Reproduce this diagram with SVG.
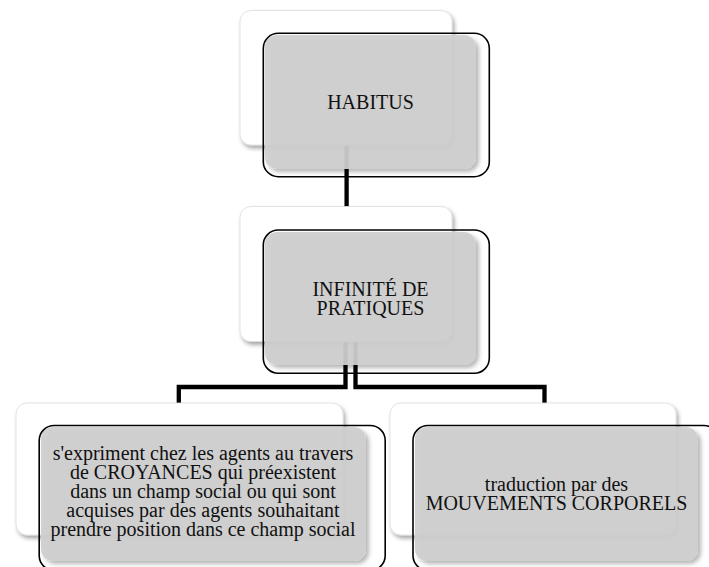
<svg xmlns="http://www.w3.org/2000/svg" width="709" height="567" viewBox="0 0 709 567">
<defs>
<filter id="sh" x="-10%" y="-10%" width="125%" height="130%">
<feDropShadow dx="2" dy="3" stdDeviation="2" flood-color="#000" flood-opacity="0.35"/>
</filter>
<filter id="sh2" x="-10%" y="-10%" width="125%" height="130%">
<feDropShadow dx="3" dy="3" stdDeviation="2.2" flood-color="#000" flood-opacity="0.3"/>
</filter>
</defs>
<style>
.back{fill:#fff;stroke:#dcdcdc;stroke-width:0.8;filter:url(#sh)}
.fill{fill:#cfcfcf;fill-opacity:0.93;filter:url(#sh2)}
.out{fill:none;stroke:#000;stroke-width:1.6}
.con{fill:none;stroke:#000;stroke-width:4.3;stroke-linejoin:miter}
.t{font-size:20px;fill:#111;text-anchor:middle}
</style>
<rect width="709" height="567" fill="#fff"/>
<g id="connectors">
<path class="con" d="M346.6,140 V210"/>
<path class="con" d="M345.5,338 V387 H178.8 V405"/>
<path class="con" d="M355.5,338 V387 H544.5 V405"/>
</g>
<g font-family="Liberation Serif, Times New Roman, serif">
<g id="node-habitus">
<rect class="back" x="240" y="10.5" width="212" height="134.5" rx="11"/>
<rect class="fill" x="265" y="35" width="211" height="134" rx="12"/>
<rect class="out" x="263.3" y="33.3" width="226" height="143.4" rx="15"/>
<text class="t" x="370.5" y="109">HABITUS</text>
</g>
<g id="node-infinite">
<rect class="back" x="240" y="206.5" width="212" height="135" rx="11"/>
<rect class="fill" x="265" y="232" width="211" height="133" rx="12"/>
<rect class="out" x="263.3" y="230" width="226" height="143.3" rx="15"/>
<text class="t" x="370.5" y="296">INFINITÉ DE</text>
<text class="t" x="370.5" y="314.5">PRATIQUES</text>
</g>
<g id="node-croyances">
<rect class="back" x="16" y="403" width="327" height="132" rx="11"/>
<rect class="fill" x="41" y="427" width="325" height="134" rx="12"/>
<rect class="out" x="39.2" y="425.5" width="346" height="145" rx="15"/>
<text class="t" x="203" y="459.5">s'expriment chez les agents au travers</text>
<text class="t" x="203" y="478.7">de CROYANCES qui préexistent</text>
<text class="t" x="203" y="497.9">dans un champ social ou qui sont</text>
<text class="t" x="203" y="517.1">acquises par des agents souhaitant</text>
<text class="t" x="203" y="536.3">prendre position dans ce champ social</text>
</g>
<g id="node-mouvements">
<rect class="back" x="390" y="403" width="286" height="132" rx="11"/>
<rect class="fill" x="415" y="427" width="283" height="134" rx="12"/>
<rect class="out" x="413" y="425.5" width="306" height="145" rx="15"/>
<text class="t" x="556.5" y="490.7">traduction par des</text>
<text class="t" x="556.5" y="510">MOUVEMENTS CORPORELS</text>
</g>
</g>
</svg>
